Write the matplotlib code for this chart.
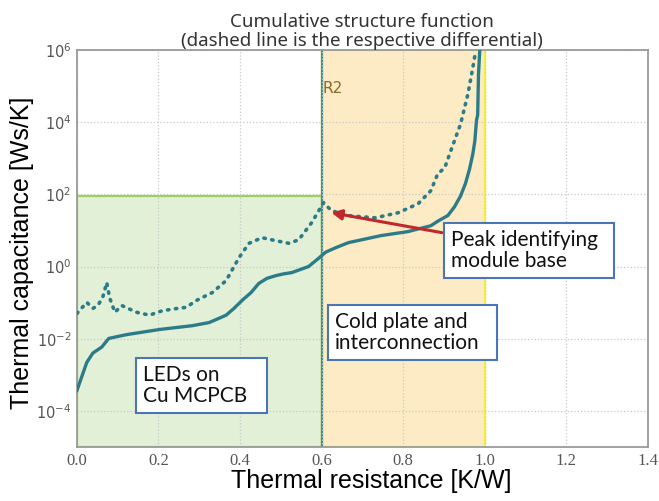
import matplotlib.pyplot as plt
from matplotlib.patches import Rectangle
from matplotlib.ticker import LogLocator, NullLocator

# cumulative structure function (solid)
R_cum = [0.0, 0.024, 0.039, 0.061, 0.068, 0.078, 0.122, 0.202, 0.283, 0.324,
         0.344, 0.366, 0.385, 0.405, 0.427, 0.446, 0.466, 0.488, 0.505, 0.527,
         0.568, 0.593, 0.610, 0.634, 0.666, 0.746, 0.812, 0.868, 0.885, 0.910,
         0.926, 0.941, 0.953, 0.963, 0.971, 0.976, 0.980, 0.983, 0.985, 0.988]
C_cum = [3.7e-4, 2.2e-3, 4.0e-3, 5.9e-3, 7.4e-3, 1.02e-2, 1.3e-2, 1.8e-2, 2.3e-2, 2.8e-2,
         3.5e-2, 4.5e-2, 6.9e-2, 1.15e-1, 1.9e-1, 3.4e-1, 4.7e-1, 5.6e-1, 6.2e-1, 6.8e-1,
         1.0, 1.7, 2.5, 3.3, 4.6, 7.2, 9.3, 13.5, 18.0, 26.0,
         45.0, 90.0, 2.0e2, 5.0e2, 1.3e3, 3.0e3, 1.1e4, 1.6e4, 2.1e5, 9.3e5]

# differential structure function (dashed)
R_diff = [0.0, 0.024, 0.039, 0.051, 0.063, 0.073, 0.080, 0.093, 0.110, 0.146,
          0.178, 0.210, 0.246, 0.268, 0.293, 0.332, 0.366, 0.398, 0.422, 0.454,
          0.488, 0.520, 0.544, 0.576, 0.605, 0.624, 0.666, 0.732, 0.788, 0.837,
          0.868, 0.885, 0.902, 0.917, 0.941, 0.959, 0.971, 0.978]
C_diff = [5.0e-2, 1.02e-1, 6.9e-2, 8.3e-2, 1.38e-1, 3.6e-1, 1.38e-1, 5.4e-2, 8.3e-2, 5.4e-2,
          4.5e-2, 6.0e-2, 6.9e-2, 7.4e-2, 1.15e-1, 1.9e-1, 4.1e-1, 1.8, 4.4, 6.3,
          5.2, 4.4, 5.5, 16.6, 59.0, 35.5, 25.7, 22.4, 31.0, 55.0,
          1.26e2, 3.7e2, 5.4e2, 1.6e3, 8.9e3, 6.0e4, 3.2e5, 9.3e5]

title_lines = ['Cumulative structure function', '(dashed line is the respective differential)']
x_ticks = [0.0, 0.2, 0.4, 0.6, 0.8, 1.0, 1.2, 1.4]

line_col = '#2b7c88'

plt.rcParams['mathtext.fontset'] = 'stix'

fig = plt.figure(figsize=(6.59, 5.01), dpi=100)
ax = fig.add_axes([0.1168, 0.1078, 0.8660, 0.7924])

ax.set_yscale('log')
ax.set_xlim(0, 1.4)
ax.set_ylim(1e-5, 1e6)

# LED/MCPCB region and cold plate region
ax.add_patch(Rectangle((0, 1e-5), 0.6, 90 - 1e-5, facecolor='#e3f0d8',
                       edgecolor='#9bd05a', lw=1.6, zorder=0.2))
ax.add_patch(Rectangle((0.6, 1e-5), 0.4, 1e6, facecolor='#fdebc5',
                       edgecolor='#f6f23a', lw=1.6, zorder=0.2))
ax.plot([0.6, 0.6], [1e-5, 1e6], color='#3d8e86', lw=1.6, zorder=0.3)
ax.text(0.603, 6.3e4, 'R2', color='#8a6a2a', fontsize=11, family='DejaVu Sans')

ax.plot(R_diff, C_diff, color=line_col, lw=2.6, ls=(0, (0.4, 1.8)),
        dash_capstyle='round', zorder=3)
ax.plot(R_cum, C_cum, color=line_col, lw=2.4, zorder=3)

ax.set_axisbelow(True)
ax.grid(True, color='#c8c8c8', ls=':', lw=0.9)
ax.set_xticks(x_ticks)
ax.set_xticklabels(['%.1f' % v for v in x_ticks])
ax.yaxis.set_major_locator(LogLocator(base=100))
ax.yaxis.set_minor_locator(NullLocator())
ax.tick_params(length=0, labelsize=12, labelcolor='#555555', pad=4)
ax.tick_params(axis='y', labelsize=10.5)
for lab in ax.get_xticklabels():
    lab.set_family('Liberation Serif')
for s in ax.spines.values():
    s.set_color('#9a9a9a')
    s.set_linewidth(1.3)

ax.set_title('\n'.join(title_lines), fontsize=13.5, color='#333333',
             family='Noto Sans', pad=1, linespacing=1.05)
ax.set_xlabel('Thermal resistance [K/W]', fontsize=18, family='Liberation Sans')
ax.set_ylabel('Thermal capacitance [Ws/K]', fontsize=18, family='Liberation Sans')
ax.xaxis.set_label_coords(0.515, -0.055)
ax.yaxis.set_label_coords(-0.076, 0.49)

# labelled boxes (axes fractions: left, bottom, width, height)
boxes = [
    (0.644, 0.426, 0.297, 0.138, 'Peak identifying\nmodule base'),
    (0.440, 0.219, 0.296, 0.139, 'Cold plate and\ninterconnection'),
    (0.103, 0.086, 0.230, 0.138, 'LEDs on\nCu MCPCB'),
]
for x0, y0, w, h, txt in boxes:
    ax.add_patch(Rectangle((x0, y0), w, h, transform=ax.transAxes, facecolor='white',
                           edgecolor='#4a76b8', lw=1.5, zorder=4))
    ax.text(x0 + 0.012, y0 + h / 2, txt, transform=ax.transAxes, va='center', ha='left',
            fontsize=15, family='Lato', color='#111111', linespacing=1.1, zorder=5)

ax.annotate('', xy=(0.624, 31), xytext=(0.895, 8.7),
            arrowprops=dict(arrowstyle='-|>', color='#c0282d', lw=2.2,
                            mutation_scale=15, shrinkA=0, shrinkB=0), zorder=4)

fig.savefig('out.png', dpi=100)
